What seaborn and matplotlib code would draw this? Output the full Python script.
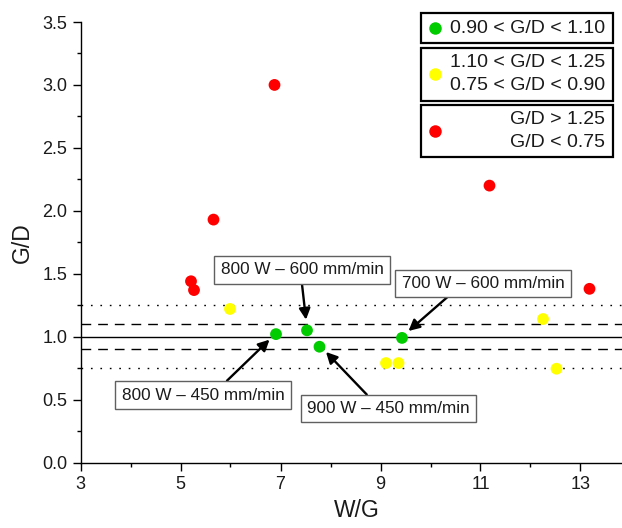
import numpy as np
import pandas as pd
import matplotlib
matplotlib.use("Agg")
import matplotlib.pyplot as plt
import seaborn as sns
from matplotlib.patches import Rectangle
from matplotlib.lines import Line2D

# ---- data ----
wg_green = [6.91, 7.53, 7.78, 9.43]
gd_green = [1.02, 1.05, 0.92, 0.99]
wg_yellow = [5.99, 9.11, 9.36, 12.25, 12.52]
gd_yellow = [1.22, 0.79, 0.79, 1.14, 0.745]
wg_red = [6.88, 5.66, 5.21, 5.27, 11.18, 13.18]
gd_red = [3.00, 1.93, 1.44, 1.37, 2.20, 1.38]

class_labels = ["0.90 < G/D < 1.10",
                "1.10 < G/D < 1.25\n0.75 < G/D < 0.90",
                "G/D > 1.25\nG/D < 0.75"]
class_colors = ["#00cc00", "#ffff00", "#ff0000"]

ref_solid = [1.0]
ref_dashed = [1.10, 0.90]
ref_dotted = [1.25, 0.75]

x_ticks = [3, 5, 7, 9, 11, 13]
y_ticks = [0.0, 0.5, 1.0, 1.5, 2.0, 2.5, 3.0, 3.5]

ann_texts = ["800 W \u2013 600 mm/min", "700 W \u2013 600 mm/min",
             "800 W \u2013 450 mm/min", "900 W \u2013 450 mm/min"]

df = pd.concat([
    pd.DataFrame({"wg": wg_green, "gd": gd_green, "cls": class_labels[0]}),
    pd.DataFrame({"wg": wg_yellow, "gd": gd_yellow, "cls": class_labels[1]}),
    pd.DataFrame({"wg": wg_red, "gd": gd_red, "cls": class_labels[2]}),
], ignore_index=True)

sns.set_theme(style="ticks")
plt.rcParams["font.family"] = ["Liberation Sans", "DejaVu Sans"]

W, H = 622, 528
fig = plt.figure(figsize=(W / 100, H / 100), dpi=100)
ax_left, ax_bottom = 80.5 / W, 1 - 462.5 / H
ax = fig.add_axes([ax_left, ax_bottom, 1 - ax_left, (462.5 - 22) / H])

for y in ref_solid:
    ax.axhline(y, color="black", lw=1.0, zorder=1)
for y in ref_dashed:
    ax.axhline(y, color="black", lw=1.0, ls=(0, (7, 5)), zorder=1)
for y in ref_dotted:
    ax.axhline(y, color="black", lw=1.0, ls=(0, (1.2, 5.6)), zorder=1)

palette = dict(zip(class_labels, class_colors))
sns.scatterplot(data=df, x="wg", y="gd", hue="cls", palette=palette,
                s=72, edgecolor="none", linewidth=0, legend=False,
                ax=ax, zorder=3)

ax.set_xlim(3, 3 + 541.5 / 50)
ax.set_ylim(0, 3.5)
ax.set_xticks(x_ticks)
ax.set_yticks(y_ticks)
ax.set_yticklabels([f"{v:.1f}" for v in y_ticks])
ax.set_xticks(np.arange(4, 14, 2), minor=True)
ax.set_yticks(np.arange(0.25, 3.5, 0.5), minor=True)
ax.tick_params(axis="both", which="major", direction="out", length=5.5,
               width=1.0, color="black", labelsize=13, labelcolor="#1a1a1a", pad=4)
ax.tick_params(axis="both", which="minor", direction="out", length=3,
               width=1.0, color="black")
for s in ["top", "right"]:
    ax.spines[s].set_visible(False)
for s in ["left", "bottom"]:
    ax.spines[s].set_color("black")
    ax.spines[s].set_linewidth(1.0)
ax.set_facecolor("white")

ax.set_xlabel("W/G", fontsize=16.5, color="#1a1a1a")
ax.set_ylabel("G/D", fontsize=16.5, color="#1a1a1a")
ax.xaxis.set_label_coords(0.51, -0.083)
ax.yaxis.set_label_coords(-0.087, 0.5)

# annotations: box centre, arrow tail, arrow head (data coords)
box_xy = [(7.43, 1.53), (11.05, 1.424), (5.45, 0.536), (9.16, 0.43)]
tails = [(7.43, 1.416), (10.34, 1.315), (5.93, 0.65), (8.725, 0.54)]
heads = [(7.51, 1.135), (9.56, 1.045), (6.78, 0.976), (7.91, 0.878)]
for txt, bxy, t, h in zip(ann_texts, box_xy, tails, heads):
    ax.text(bxy[0], bxy[1], txt, ha="center", va="center", fontsize=12.3,
            color="#1a1a1a", zorder=5,
            bbox=dict(boxstyle="square,pad=0.36", fc="white", ec="#606060", lw=1.0))
    ax.annotate("", xy=h, xytext=t,
                arrowprops=dict(arrowstyle="-|>,head_length=0.55,head_width=0.28",
                                color="black", lw=1.7, shrinkA=0, shrinkB=0,
                                mutation_scale=12),
                zorder=4)

# legend: three separate framed boxes (figure pixel layout)
boxes = [(13.3, 43.3), (47.7, 100.7), (105.0, 157.3)]
bx0, bx1 = 420.7, 612.7
for (top, bot), lab, col in zip(boxes, class_labels, class_colors):
    rect = Rectangle((bx0 / W, 1 - bot / H), (bx1 - bx0) / W, (bot - top) / H,
                     transform=fig.transFigure, fc="white", ec="black", lw=1.6,
                     zorder=10)
    fig.add_artist(rect)
    yc = 1 - (top + bot) / 2 / H
    fig.add_artist(Line2D([435 / W], [yc], marker="o", markersize=9,
                          markerfacecolor=col, markeredgewidth=0, ls="none",
                          transform=fig.transFigure, zorder=11))
    fig.text(605 / W, yc, lab, ha="right", va="center", multialignment="right",
             fontsize=14, color="#1a1a1a", linespacing=1.45, zorder=11)

fig.savefig("out.png", dpi=100, facecolor="white")
